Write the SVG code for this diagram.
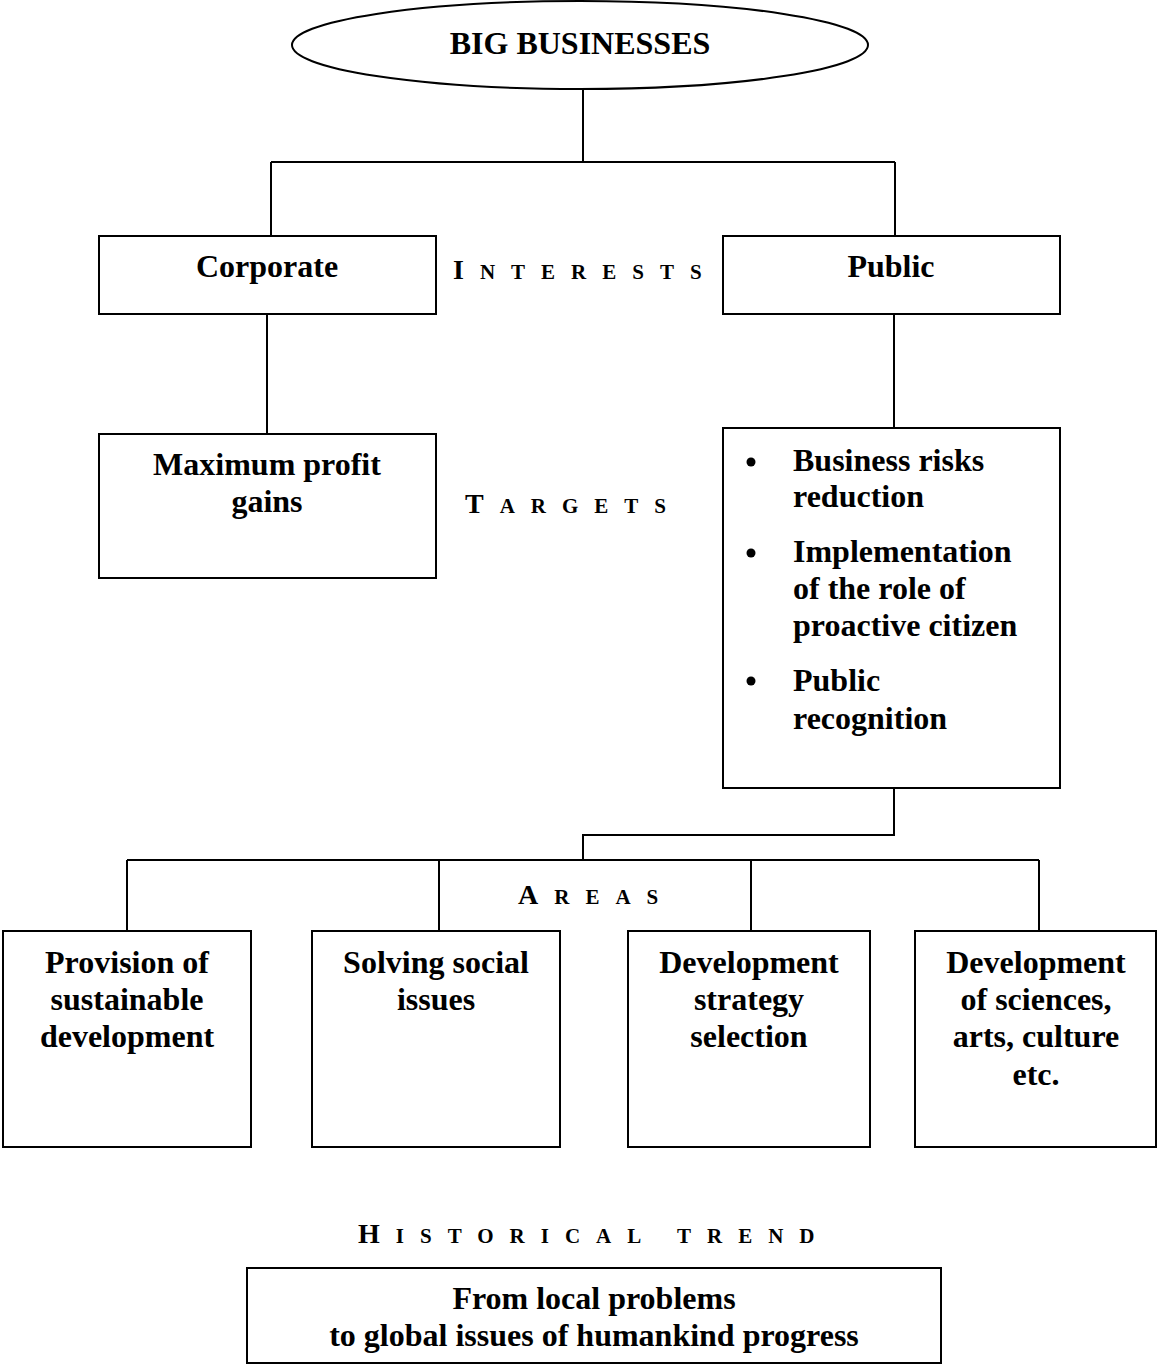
<svg xmlns="http://www.w3.org/2000/svg" width="1158" height="1365" viewBox="0 0 1158 1365">
<style>
.box{fill:#fff;stroke:#000;stroke-width:2}
.ln{fill:none;stroke:#000;stroke-width:2}
.t{font-family:"Liberation Serif","Times New Roman",serif;font-weight:bold;font-size:32px;fill:#000;text-anchor:middle}
.tl{font-family:"Liberation Serif","Times New Roman",serif;font-weight:bold;font-size:32px;fill:#000}
.sc{font-family:"Liberation Serif","Times New Roman",serif;font-weight:bold;font-size:21px;fill:#000;letter-spacing:16px}
.sc .big{font-size:28px}
</style>
<rect width="1158" height="1365" fill="#fff"/>
<g id="connectors">
<path class="ln" d="M583 90V162M271 162H895M271 162V236M895 162V236"/>
<path class="ln" d="M267 314V434"/>
<path class="ln" d="M894 314V428"/>
<path class="ln" d="M894 788V835H583V860M127 860H1039M127 860V931M439 860V931M751 860V931M1039 860V931"/>
</g>
<g id="big-businesses">
<ellipse class="box" cx="580" cy="45" rx="288" ry="44"/>
<text class="t" x="580" y="54">BIG BUSINESSES</text>
</g>
<g id="corporate">
<rect class="box" x="99" y="236" width="337" height="78"/>
<text class="t" x="267" y="277">Corporate</text>
</g>
<g id="public">
<rect class="box" x="723" y="236" width="337" height="78"/>
<text class="t" x="891" y="277">Public</text>
</g>
<g id="label-interests">
<text class="sc" x="453" y="279"><tspan class="big">I</tspan>NTERESTS</text>
</g>
<g id="maximum-profit">
<rect class="box" x="99" y="434" width="337" height="144"/>
<text class="t" x="267" y="475">Maximum profit</text>
<text class="t" x="267" y="512">gains</text>
</g>
<g id="label-targets">
<text class="sc" x="465" y="513"><tspan class="big">T</tspan>ARGETS</text>
</g>
<g id="public-targets">
<rect class="box" x="723" y="428" width="337" height="360"/>
<circle cx="751" cy="462" r="4.5"/>
<circle cx="751" cy="553" r="4.5"/>
<circle cx="751" cy="681" r="4.5"/>
<text class="tl" x="793" y="471">Business risks</text>
<text class="tl" x="793" y="507">reduction</text>
<text class="tl" x="793" y="562">Implementation</text>
<text class="tl" x="793" y="599">of the role of</text>
<text class="tl" x="793" y="636">proactive citizen</text>
<text class="tl" x="793" y="691">Public</text>
<text class="tl" x="793" y="729">recognition</text>
</g>
<g id="label-areas">
<text class="sc" x="518" y="904"><tspan class="big">A</tspan>REAS</text>
</g>
<g id="area-sustainable">
<rect class="box" x="3" y="931" width="248" height="216"/>
<text class="t" x="127" y="973">Provision of</text>
<text class="t" x="127" y="1010">sustainable</text>
<text class="t" x="127" y="1047">development</text>
</g>
<g id="area-social">
<rect class="box" x="312" y="931" width="248" height="216"/>
<text class="t" x="436" y="973">Solving social</text>
<text class="t" x="436" y="1010">issues</text>
</g>
<g id="area-strategy">
<rect class="box" x="628" y="931" width="242" height="216"/>
<text class="t" x="749" y="973">Development</text>
<text class="t" x="749" y="1010">strategy</text>
<text class="t" x="749" y="1047">selection</text>
</g>
<g id="area-sciences">
<rect class="box" x="915" y="931" width="241" height="216"/>
<text class="t" x="1036" y="973">Development</text>
<text class="t" x="1036" y="1010">of sciences,</text>
<text class="t" x="1036" y="1047">arts, culture</text>
<text class="t" x="1036" y="1085">etc.</text>
</g>
<g id="label-historical-trend">
<text class="sc" x="358" y="1243"><tspan class="big">H</tspan>ISTORICAL TREND</text>
</g>
<g id="historical-trend">
<rect class="box" x="247" y="1268" width="694" height="95"/>
<text class="t" x="594" y="1309">From local problems</text>
<text class="t" x="594" y="1346">to global issues of humankind progress</text>
</g>
</svg>
